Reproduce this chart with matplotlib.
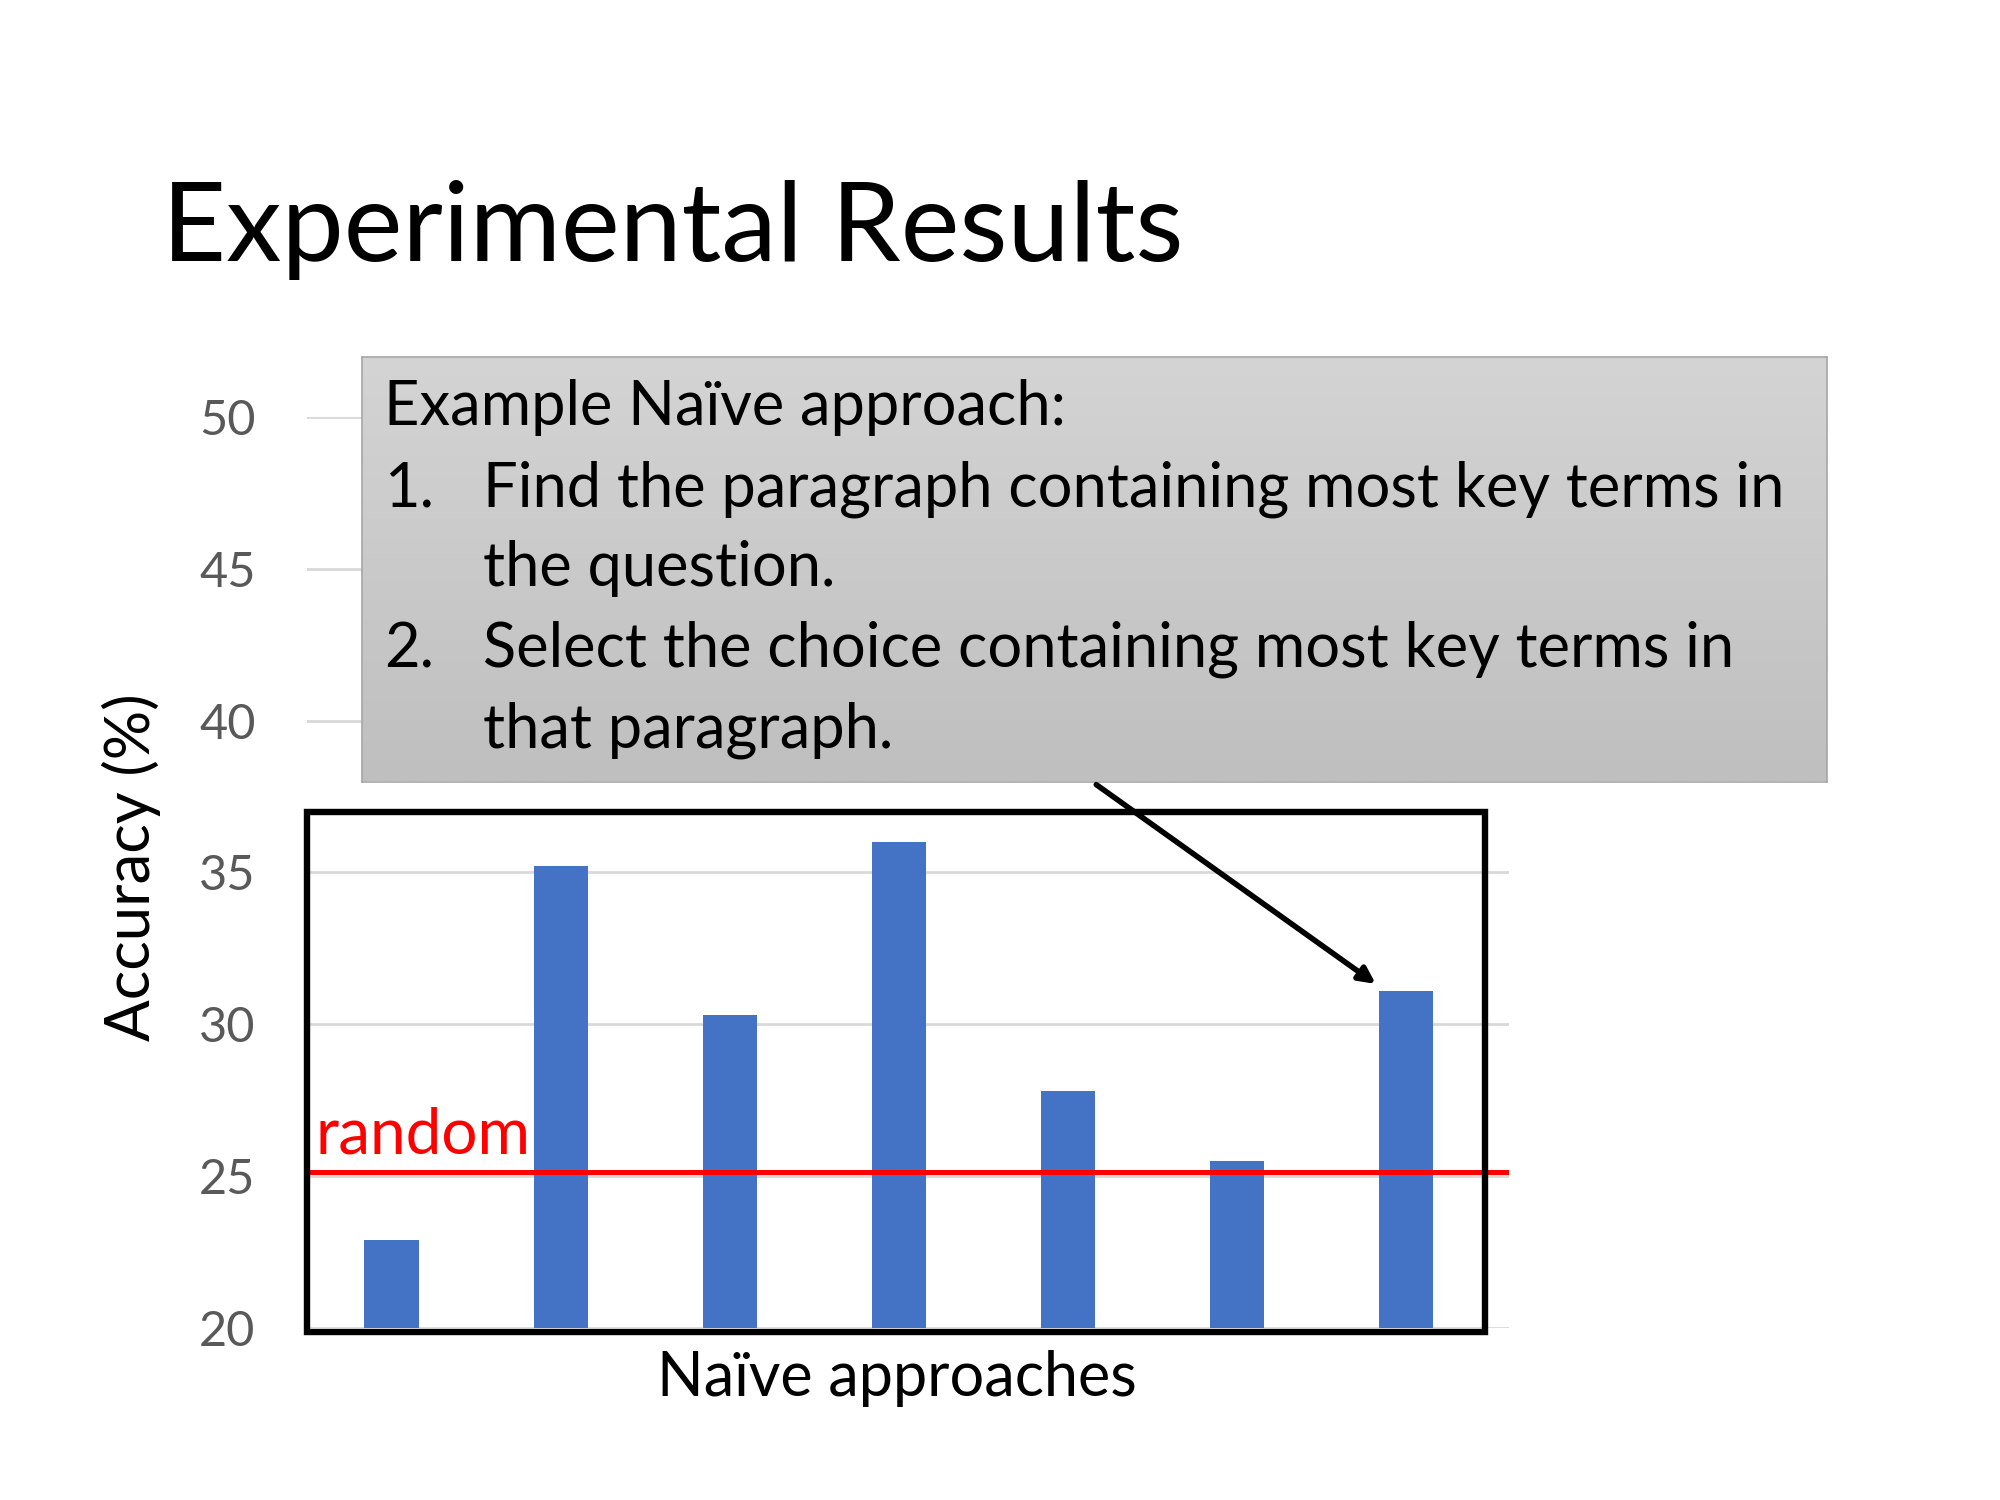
import numpy as np
import matplotlib
matplotlib.use("Agg")
import matplotlib.pyplot as plt
from matplotlib.patches import Rectangle, FancyArrowPatch

# data
approaches = ["A1", "A2", "A3", "A4", "A5", "A6", "A7"]
accuracy = [22.9, 35.2, 30.3, 36.0, 27.8, 25.5, 31.1]
random_level = 25.15
yticks = [20, 25, 30, 35, 40, 45, 50]

title = "Experimental Results"
callout_head = "Example Na\u00efve approach:"
callout_items = [("1.", ["Find the paragraph containing most key terms in", "the question."]),
                 ("2.", ["Select the choice containing most key terms in", "that paragraph."])]

plt.rcParams["font.family"] = ["Lato", "DejaVu Sans"]

fig = plt.figure(figsize=(20, 15), dpi=100)
fig.patch.set_facecolor("white")

# title
fig.text(0.081, 0.826, title, fontsize=80, fontweight="normal", va="baseline", ha="left")

# bar chart
ax = fig.add_axes([0.1535, 0.1147, 0.601, 0.6073])
x = np.arange(len(approaches))
ax.bar(x, accuracy, width=0.32, color="#4472C4", zorder=3)
ax.set_xlim(-0.5, len(approaches) - 0.39)
ax.set_ylim(20, 50)
ax.set_yticks(yticks)
ax.set_yticklabels([str(t) for t in yticks], fontsize=35, color="#595959")
ax.set_xticks([])
ax.tick_params(axis="y", length=0, pad=37)
for s in ax.spines.values():
    s.set_visible(False)
ax.grid(axis="y", color="#d9d9d9", linewidth=2, zorder=0)
ax.set_axisbelow(True)

# random baseline
ax.axhline(random_level, color="#ff0000", linewidth=3.6, zorder=4)
ax.text(-0.45, random_level + 0.6, "random", color="#ff0000", fontsize=46,
        va="baseline", ha="left", zorder=5)

# black highlight frame
ax.add_patch(Rectangle((0.0, -0.004), 0.98, 0.57, transform=ax.transAxes,
                       fill=False, edgecolor="black", linewidth=4.6, zorder=6,
                       clip_on=False))

# axis labels
fig.text(0.0655, 0.422, "Accuracy (%)", rotation=90, fontsize=44.5, va="center", ha="center")
fig.text(0.4485, 0.081, "Na\u00efve approaches", fontsize=44, va="center", ha="center")

# callout box with gradient
bx0, by0, bx1, by1 = 0.181, 0.479, 0.9135, 0.762
cax = fig.add_axes([bx0, by0, bx1 - bx0, by1 - by0])
grad = np.linspace(0, 1, 256).reshape(-1, 1)
cax.imshow(grad, aspect="auto", cmap=matplotlib.colors.LinearSegmentedColormap.from_list(
    "g", ["#d4d4d4", "#bfbfbf"]), extent=[0, 1, 0, 1], origin="upper")
cax.set_xlim(0, 1)
cax.set_ylim(0, 1)
cax.set_xticks([])
cax.set_yticks([])
for s in cax.spines.values():
    s.set_edgecolor("#a6a6a6")
    s.set_linewidth(1.2)

fs_call = 44.2
fig.text(0.192, 0.728, callout_head, fontsize=fs_call, va="center", ha="left")
line_y = [0.674, 0.621, 0.567, 0.513]
k = 0
for num, lines in callout_items:
    fig.text(0.192, line_y[k], num, fontsize=fs_call, va="center", ha="left")
    for ln in lines:
        fig.text(0.2415, line_y[k], ln, fontsize=fs_call, va="center", ha="left")
        k += 1

# arrow from callout to last bar
arr = FancyArrowPatch((0.547, 0.478), (0.689, 0.343), transform=fig.transFigure,
                      arrowstyle="-|>", mutation_scale=24, linewidth=4, color="black")
fig.patches.append(arr)

fig.savefig("out.png", dpi=100)
